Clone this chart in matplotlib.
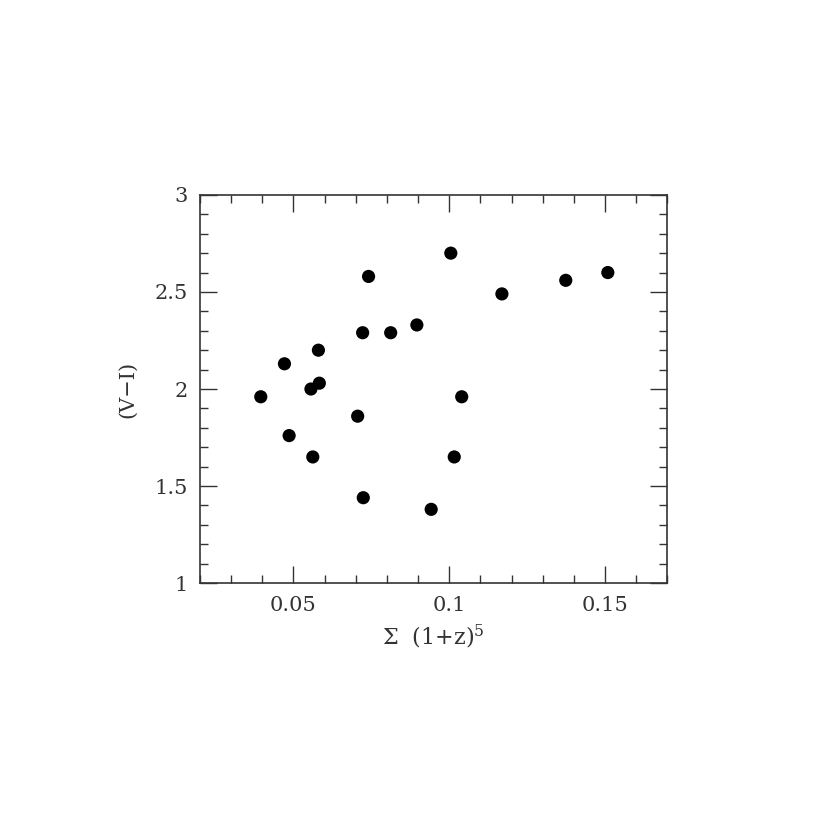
import matplotlib
matplotlib.use("Agg")
import matplotlib.pyplot as plt
from matplotlib.ticker import MultipleLocator

# values
sigma_z = [0.0395, 0.0471, 0.0486, 0.0556, 0.0562, 0.0580, 0.0583, 0.0706,
           0.0722, 0.0724, 0.0741, 0.0812, 0.0896, 0.0942, 0.1005, 0.1016,
           0.1040, 0.1169, 0.1374, 0.1509]
v_minus_i = [1.96, 2.13, 1.76, 2.00, 1.65, 2.20, 2.03, 1.86,
             2.29, 1.44, 2.58, 2.29, 2.33, 1.38, 2.70, 1.65,
             1.96, 2.49, 2.56, 2.60]

x_major = [0.05, 0.1, 0.15]
x_labels = ['0.05', '0.1', '0.15']
y_major = [1, 1.5, 2, 2.5, 3]
y_labels = ['1', '1.5', '2', '2.5', '3']

plt.rcParams['font.family'] = ['DejaVu Serif']
plt.rcParams['mathtext.fontset'] = 'dejavuserif'

fig = plt.figure(figsize=(8.3, 8.33), dpi=100)
ax = fig.add_axes([0.241, 0.300, 0.563, 0.466])

ax.scatter(sigma_z, v_minus_i, s=90, c='black', edgecolors='none', zorder=3)

ax.set_xlim(0.02, 0.17)
ax.set_ylim(1, 3)
ax.set_xticks(x_major)
ax.set_yticks(y_major)
ax.xaxis.set_minor_locator(MultipleLocator(0.01))
ax.yaxis.set_minor_locator(MultipleLocator(0.1))
ax.set_xticklabels(x_labels)
ax.set_yticklabels(y_labels)

ax.tick_params(which='both', direction='in', top=True, right=True,
               color='#333333', width=1.0, labelsize=15, labelcolor='#333333')
ax.tick_params(which='major', length=12, pad=9)
ax.tick_params(which='minor', length=6)
for sp in ax.spines.values():
    sp.set_linewidth(1.2)
    sp.set_color('#333333')

ax.set_xlabel('\u03a3  (1+z)$^5$', fontsize=16, color='#333333', labelpad=6)
ax.set_ylabel('(V\u2212I)', fontsize=15, color='#333333', labelpad=12)

fig.savefig('out.png', dpi=100)
